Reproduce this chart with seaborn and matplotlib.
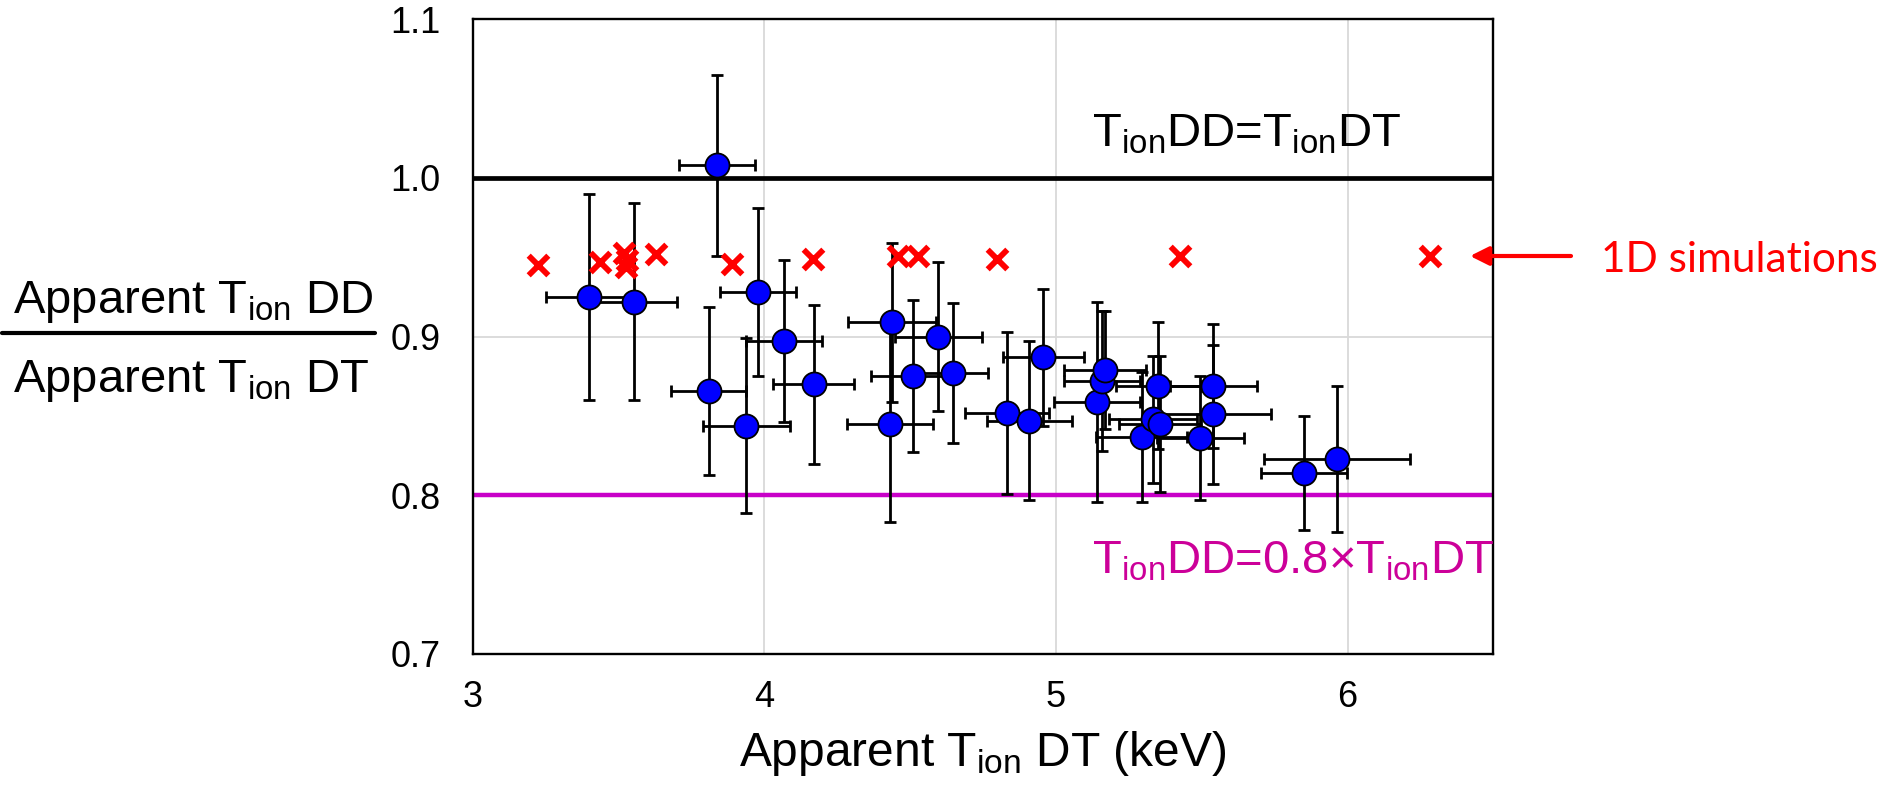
import numpy as np
import pandas as pd
import matplotlib
matplotlib.use("Agg")
import matplotlib.pyplot as plt
from matplotlib.lines import Line2D
import seaborn as sns

# Measured shots: apparent DT ion temperature (keV) and the DD/DT ratio, with uncertainties
t_dt = [3.839, 3.398, 3.552, 3.809, 3.938, 3.979, 4.068, 4.169, 4.438, 4.432,
        4.509, 4.597, 4.647, 4.831, 4.909, 4.957, 5.140, 5.158, 5.168, 5.294,
        5.333, 5.357, 5.351, 5.495, 5.539, 5.540, 5.850, 5.964]
ratio = [1.008, 0.925, 0.922, 0.866, 0.844, 0.928, 0.897, 0.870, 0.909, 0.845,
         0.875, 0.900, 0.877, 0.852, 0.847, 0.887, 0.859, 0.872, 0.879, 0.837,
         0.848, 0.845, 0.869, 0.836, 0.851, 0.869, 0.814, 0.823]
t_dt_err = [0.13, 0.146, 0.149, 0.129, 0.15, 0.13, 0.13, 0.14, 0.15, 0.147,
            0.144, 0.15, 0.12, 0.144, 0.145, 0.14, 0.147, 0.13, 0.14, 0.157,
            0.15, 0.14, 0.146, 0.15, 0.2, 0.15, 0.147, 0.25]
ratio_err = [0.057, 0.065, 0.062, 0.053, 0.055, 0.053, 0.051, 0.050, 0.050, 0.062,
             0.048, 0.047, 0.044, 0.051, 0.050, 0.043, 0.063, 0.044, 0.037, 0.041,
             0.040, 0.043, 0.040, 0.039, 0.044, 0.039, 0.036, 0.046]

# 1D simulation results
sim_t_dt = [3.223, 3.436, 3.520, 3.530, 3.525, 3.627, 3.889, 4.167, 4.459,
            4.528, 4.797, 5.424, 6.283]
sim_ratio = [0.945, 0.947, 0.953, 0.948, 0.944, 0.952, 0.946, 0.949, 0.951,
             0.951, 0.949, 0.951, 0.951]

# Reference ratios
equal_ratio = 1.0
low_ratio = 0.8

x_ticks = [3, 4, 5, 6]
y_ticks = [0.7, 0.8, 0.9, 1.0, 1.1]

sns.set_style("white")
plt.rcParams["font.family"] = ["Liberation Sans", "DejaVu Sans"]
plt.rcParams["mathtext.fontset"] = "custom"
plt.rcParams["mathtext.rm"] = "Liberation Sans"
plt.rcParams["mathtext.it"] = "Liberation Sans:italic"
plt.rcParams["mathtext.bf"] = "Liberation Sans:bold"
for key in ("text.color", "axes.labelcolor", "xtick.color", "ytick.color"):
    plt.rcParams[key] = "black"

fig = plt.figure(figsize=(18.85, 7.85), dpi=100)
ax = fig.add_axes([0.2508, 0.1669, 0.5414, 0.8085])

ax.set_xlim(3, 6.5)
ax.set_ylim(0.7, 1.1)
ax.set_xticks(x_ticks)
ax.set_yticks(y_ticks)
ax.set_xticklabels([str(t) for t in x_ticks])
ax.set_yticklabels([f"{v:.1f}" for v in y_ticks])
ax.grid(True, color="#D9D9D9", lw=1.3)
ax.set_axisbelow(True)
ax.tick_params(length=0, labelsize=26)
ax.tick_params(axis="x", pad=19)
ax.tick_params(axis="y", pad=23)
for s in ax.spines.values():
    s.set_color("black")
    s.set_linewidth(1.7)

ax.axhline(equal_ratio, color="black", lw=3.4, zorder=2)
ax.axhline(low_ratio, color="#C800C8", lw=3.2, zorder=2)

ax.errorbar(t_dt, ratio, xerr=t_dt_err, yerr=ratio_err, fmt="none",
            ecolor="black", elinewidth=2.0, capsize=4.5, capthick=2.0, zorder=3)

shots = pd.DataFrame({"t_dt": t_dt, "ratio": ratio})
sns.scatterplot(data=shots, x="t_dt", y="ratio", ax=ax, color="#0000FF",
                edgecolor="black", linewidth=1.3, s=300, zorder=4, legend=False)

sims = pd.DataFrame({"t_dt": sim_t_dt, "ratio": sim_ratio})
sns.scatterplot(data=sims, x="t_dt", y="ratio", ax=ax, marker="x", color="#FF0000",
                s=200, linewidth=4.2, zorder=5, legend=False)

ax.set_xlabel(r"Apparent T$_{\mathrm{ion}}$ DT (keV)", fontsize=34.5, labelpad=10)
ax.set_ylabel("")

ax.text(5.125, 1.0196, r"T$_{\mathrm{ion}}$DD=T$_{\mathrm{ion}}$DT",
        fontsize=34, ha="left", va="baseline", zorder=6)
ax.text(5.125, 0.7505, r"T$_{\mathrm{ion}}$DD=0.8×T$_{\mathrm{ion}}$DT",
        fontsize=34, color="#CC0099", ha="left", va="baseline", zorder=6)

# Fraction-style y label
fig.text(0.0069, 0.6009, r"Apparent T$_{\mathrm{ion}}$ DD", fontsize=34,
         ha="left", va="baseline")
fig.text(0.0069, 0.5010, r"Apparent T$_{\mathrm{ion}}$ DT", fontsize=34,
         ha="left", va="baseline")
fig.add_artist(Line2D([0.0009, 0.199], [0.5754, 0.5754], color="black", lw=3,
                      transform=fig.transFigure))

# Arrow pointing at the simulation series
ax.annotate("", xy=(1470 / 1885, 1 - 256 / 785), xycoords="figure fraction",
            xytext=(1571 / 1885, 1 - 256 / 785), textcoords="figure fraction",
            arrowprops=dict(arrowstyle="-|>", color="#FF0000", lw=3,
                            mutation_scale=28, shrinkA=0, shrinkB=0),
            annotation_clip=False)
fig.text(0.8496, 0.6539, "1D simulations", color="#FF0000", fontsize=30.5,
         family=["Lato", "DejaVu Sans"], ha="left", va="baseline")

fig.savefig("out.png", dpi=100)
